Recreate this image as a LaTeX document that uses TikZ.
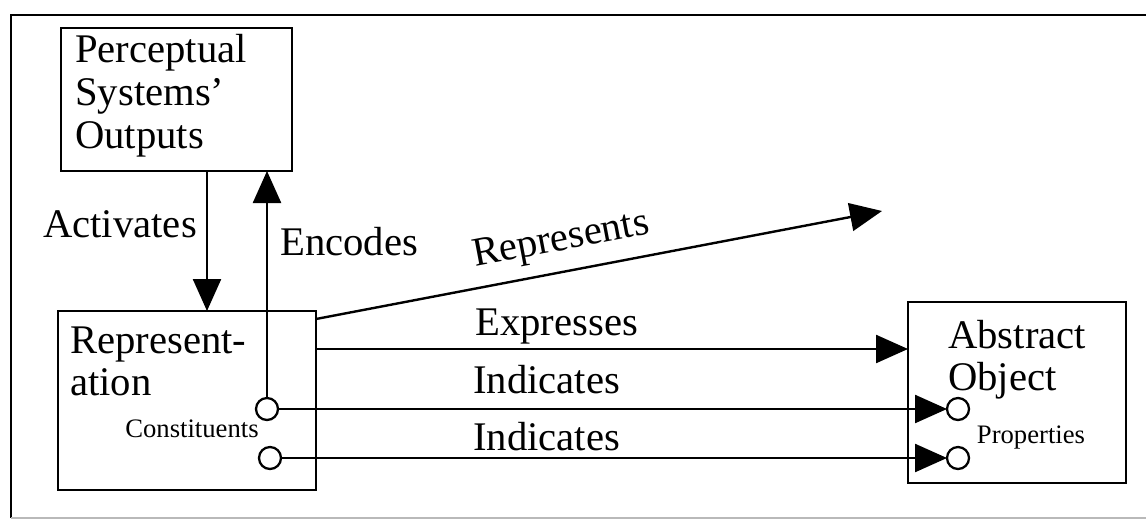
\documentclass[tikz,border=0pt]{standalone}
\usepackage{fontspec}
\setmainfont{Liberation Serif}
\usetikzlibrary{arrows.meta}
\begin{document}
\begin{tikzpicture}[x=0.75pt,y=-0.75pt,
  box/.style={draw, line width=2pt, inner sep=0pt, outer sep=0pt},
  port/.style={circle, draw, fill=white, line width=1.7pt, minimum size=16.5pt, inner sep=0pt, outer sep=0pt},
  link/.style={line width=1.8pt},
  arr/.style={link, -{Triangle[length=24pt,width=21pt]}},
  lbl/.style={inner sep=0pt, anchor=base west, font=\fontsize{30.5pt}{33pt}\selectfont},
  small/.style={inner sep=0pt, anchor=base, font=\fontsize{20pt}{22pt}\selectfont},
]
\useasboundingbox (0,0) rectangle (1146,521);

% surrounding frame (open on the right)
\draw[line width=2.2pt] (1146,15) -- (11,15) -- (11,518);
\draw[line width=1.5pt, gray!55] (11,518) -- (1146,518);

% boxes
\node[box, minimum width=173.25pt, minimum height=107.25pt] (perc) at (176.5,99.5) {};
\node[box, minimum width=193.5pt, minimum height=134.25pt] (rep) at (187,400.5) {};
\node[box, minimum width=163.5pt, minimum height=135.75pt] (abs) at (1017,392.5) {};

% box texts
\node[lbl] (p1) at (75,62) {Perceptual};
\node[lbl] (p2) at (75,105) {Systems'};
\node[lbl] (p3) at (75,148) {Outputs};
\node[lbl] (r1) at (70,353) {Represent-};
\node[lbl] (r2) at (70,395) {ation};
\node[lbl] (a1) at (948,348) {Abstract};
\node[lbl] (a2) at (948,390) {Object};
\node[small] (cons) at (192,437) {Constituents};
\node[small] (props) at (1031,443) {Properties};

% helper coordinates
\coordinate (actx) at (207,0);
\coordinate (exy) at (0,349);
\coordinate (rsy) at (0,319);
\coordinate (rtip) at (882,211);

% activation and representation links
\draw[arr] (perc.south -| actx) -- (rep.north -| actx);
\draw[arr] (rep.east |- rsy) -- (rtip);
\draw[arr] (rep.east |- exy) -- (abs.west |- exy);

% constituent and property ports
\node[port] (c1) at (267,409) {};
\node[port] (c2) at (270,458) {};
\node[port] (d1) at (958,409) {};
\node[port] (d2) at (958,458) {};

\draw[arr] (c1.north) -- (c1 |- perc.south);
\draw[arr] (c1.east) -- (d1.west);
\draw[arr] (c2.east) -- (d2.west);

% connector labels
\node[lbl] (lact) at (43,237) {Activates};
\node[lbl] (lenc) at (280,255) {Encodes};
\node[lbl, rotate=10.8] (lrep) at (475,267) {Represents};
\node[lbl] (lexp) at (475,335) {Expresses};
\node[lbl] (lind1) at (473,393) {Indicates};
\node[lbl] (lind2) at (473,450) {Indicates};
\end{tikzpicture}
\end{document}
